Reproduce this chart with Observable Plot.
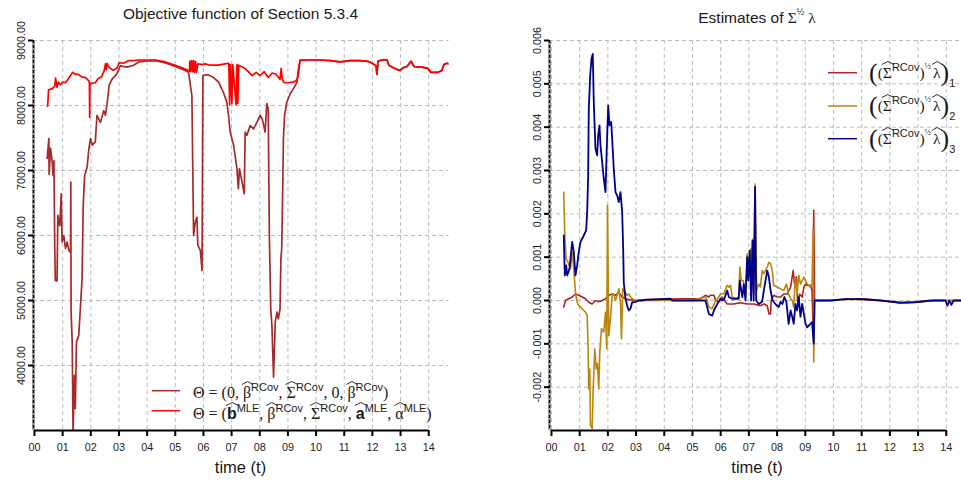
<!DOCTYPE html>
<html><head><meta charset="utf-8">
<script src="https://cdn.jsdelivr.net/npm/d3@7"></script>
<script src="https://cdn.jsdelivr.net/npm/@observablehq/plot@0.6"></script>
<style>
body{margin:0;background:#fff;}
#wrap{position:relative;width:961px;height:483px;overflow:hidden;font-family:"Liberation Sans",Arial,sans-serif;}
#wrap > div{position:absolute;top:0;}
#ov{position:absolute;left:0;top:0;pointer-events:none;font-family:"Liberation Sans",Arial,sans-serif;fill:#1a1a1a;}
.ser{font-family:"Liberation Serif","DejaVu Serif",serif;}
.sup{font-family:"Liberation Sans",Arial,sans-serif;font-size:11px;}
.bsans{font-family:"Liberation Sans",Arial,sans-serif;font-weight:bold;font-size:16px;}
</style></head><body>
<div id="wrap"><div id="leftPanel" style="left:0"></div><div id="rightPanel" style="left:480px"></div></div>
<script>
// ---------- tick values ----------
const xTicks = [0,1,2,3,4,5,6,7,8,9,10,11,12,13,14];
const yTicksLeft = [4000,5000,6000,7000,8000,9000];
const yTicksRight = [-0.002,-0.001,0,0.001,0.002,0.003,0.004,0.005,0.006];

// ---------- left panel: objective function ----------
// Theta = (0, beta^RCov, Sigma^RCov, 0, beta^RCov)
const timeRCov = [0.45,0.51,0.52,0.57,0.63,0.66,0.69,0.72,0.74,0.80,
 0.83,0.90,0.95,0.98,1.04,1.10,1.16,1.22,1.28,1.29,
 1.30,1.34,1.37,1.42,1.45,1.49,1.57,1.63,1.69,1.73,
 1.78,1.87,1.93,1.99,2.05,2.16,2.22,2.34,2.46,2.52,
 2.60,2.65,2.76,2.93,3.05,3.29,3.52,3.70,4.01,4.30,
 4.65,5.00,5.35,5.47,5.59,5.65,5.71,5.77,5.80,5.89,
 5.95,5.98,6.06,6.18,6.36,6.54,6.71,6.83,6.89,6.95,
 7.07,7.19,7.24,7.28,7.37,7.45,7.48,7.54,7.66,7.78,
 7.90,8.01,8.09,8.19,8.25,8.30,8.34,8.39,8.43,8.49,
 8.55,8.61,8.66,8.72,8.75,8.78,8.82,8.84,8.88,8.96,
 9.08,9.20,9.32,9.37,9.43,
 9.79,10.14,10.50,10.85,11.21,11.56,11.84,11.99,12.13,12.16,
 12.20,12.34,12.52,12.59,12.70,12.84,12.98,13.09,13.23,13.37,
 13.48,13.62,13.76,13.97,14.08,14.33,14.47,14.54,14.65,14.72];
const objRCov = [7185,7490,6940,7340,7130,6920,7150,5800,5310,5300,
 6310,6150,6640,5900,6000,5800,5900,5770,5740,6820,
 4820,4360,2980,3850,3340,4360,4460,4880,5340,6460,
 6920,7050,7330,7490,7390,7440,7850,7740,7920,7850,
 8100,8310,8410,8490,8610,8590,8620,8670,8685,8690,
 8655,8600,8540,8510,8150,6000,6200,6280,5850,5770,
 5460,8460,8470,8470,8430,8360,8200,8050,7850,7590,
 7390,7030,6720,7030,6820,6640,7590,7540,7690,7640,
 7740,7850,7790,7590,8030,7950,6000,4870,4620,3820,
 4670,4820,4720,4870,5640,5800,6870,7490,7850,8050,
 8180,8260,8360,8560,8690,
 8700,8700,8690,8670,8690,8690,8680,8650,8610,8480,
 8680,8700,8700,8620,8590,8560,8540,8580,8600,8680,
 8600,8590,8590,8570,8510,8510,8540,8630,8650,8640];
// Theta = (b^MLE, beta^RCov, Sigma^RCov, a^MLE, alpha^MLE)
const timeMLE = [0.45,0.47,0.50,0.64,0.72,0.75,0.80,0.85,0.92,1.00,
 1.10,1.17,1.28,1.35,1.45,1.56,1.67,1.81,1.93,1.95,
 1.96,1.97,2.05,2.16,2.27,2.38,2.48,2.52,2.55,2.58,
 2.62,2.70,2.80,2.94,3.01,3.16,3.33,3.51,3.69,4.01,
 4.30,4.65,5.00,5.35,5.50,5.52,5.55,5.58,5.62,5.65,
 5.68,5.72,5.75,5.80,5.95,6.06,6.24,6.52,6.77,6.90,
 6.93,6.96,7.01,7.04,7.16,7.19,7.22,7.25,7.48,7.73,
 7.87,8.01,8.16,8.30,8.44,8.58,8.72,8.76,8.80,8.87,
 9.01,9.18,9.29,9.36,9.43,9.79,10.14,10.50,10.85,11.21,
 11.56,11.84,11.99,12.13,12.16,12.20,12.34,12.52,12.59,12.70,
 12.84,12.98,13.09,13.23,13.37,13.48,13.62,13.76,13.97,14.08,
 14.33,14.47,14.54,14.65,14.72];
const objMLE = [7990,8000,8240,8260,8300,8420,8280,8360,8320,8360,
 8350,8390,8460,8510,8480,8480,8440,8430,8380,8350,
 7820,8340,8340,8350,8420,8440,8540,8640,8550,8650,
 8600,8570,8540,8580,8660,8650,8690,8690,8700,8700,
 8700,8670,8620,8560,8530,8680,8520,8690,8520,8690,
 8510,8680,8510,8640,8630,8640,8620,8620,8640,8650,
 8010,8630,8030,8630,8010,8630,8030,8620,8570,8460,
 8510,8460,8520,8430,8500,8480,8400,8570,8400,8350,
 8350,8360,8380,8440,8700,8700,8700,8690,8670,8690,
 8690,8680,8650,8610,8480,8680,8700,8700,8620,8590,
 8560,8540,8580,8600,8680,8600,8590,8590,8570,8510,
 8510,8540,8630,8650,8640];

// ---------- right panel: estimates of Sigma^(1/2) lambda ----------
const time1 = [0.436,0.496,0.613,0.734,0.851,0.968,1.089,1.206,1.323,1.443,
 1.560,1.677,1.798,1.915,2.032,2.152,2.270,2.387,2.507,2.624,
 2.741,2.979,3.333,4.57,5.28,5.46,5.58,5.64,5.76,5.82,
 5.93,6.05,6.17,6.23,6.46,6.70,6.94,7.17,7.41,7.53,
 7.65,7.71,7.77,7.79,7.88,8.00,8.12,8.24,8.36,8.48,
 8.57,8.62,8.69,8.73,8.80,8.89,8.95,9.01,9.07,9.18,
 9.24,9.28,9.30,9.33,9.89,10.60,11.13,11.67,12.38,12.91,
 13.62,14.68];
const lambda1 = [-0.15e-3,0,0.04e-3,0.08e-3,0.15e-3,0.12e-3,0.08e-3,0.04e-3,-0.04e-3,-0.08e-3,
 0,-0.03e-3,0,0.04e-3,0.12e-3,0.15e-3,0.12e-3,0.19e-3,0.08e-3,0.04e-3,
 0.02e-3,0,0.02e-3,0.04e-3,0.04e-3,0.12e-3,0.08e-3,0.12e-3,0.12e-3,0,
 -0.03e-3,0.08e-3,-0.03e-3,-0.08e-3,-0.08e-3,-0.05e-3,-0.08e-3,-0.08e-3,-0.12e-3,-0.08e-3,
 -0.12e-3,-0.31e-3,-0.31e-3,0,0.12e-3,0.08e-3,0.08e-3,0.15e-3,0.15e-3,0.31e-3,
 0.69e-3,0.38e-3,0.54e-3,-0.08e-3,0.15e-3,0.08e-3,0.31e-3,0.38e-3,0.35e-3,0.35e-3,
 0.23e-3,-0.77e-3,2.08e-3,0,0,0.04e-3,0.04e-3,0,-0.06e-3,-0.04e-3,
 0,0];
const time2 = [0.436,0.472,0.521,0.592,0.674,0.734,0.791,0.851,0.911,0.968,
 1.028,1.089,1.206,1.266,1.301,1.323,1.358,1.383,1.443,1.479,
 1.535,1.585,1.631,1.677,1.713,1.773,1.855,1.915,1.961,1.986,
 2.032,2.092,2.152,2.209,2.270,2.330,2.387,2.447,2.482,2.528,
 2.564,2.624,2.684,2.741,2.801,2.862,2.979,3.333,4.93,5.46,
 5.52,5.58,5.70,5.82,5.93,5.99,6.11,6.23,6.29,6.35,
 6.41,6.52,6.64,6.68,6.73,6.80,6.88,6.94,7.00,7.06,
 7.09,7.13,7.17,7.22,7.27,7.35,7.41,7.47,7.53,7.65,
 7.71,7.77,7.83,7.88,8.00,8.12,8.24,8.33,8.41,8.48,
 8.54,8.59,8.65,8.71,8.77,8.83,8.95,9.07,9.18,9.24,
 9.28,9.30,9.33,9.89,10.60,11.67,12.38,13.62,14.68];
const lambda2 = [2.50e-3,1.50e-3,0.96e-3,0.88e-3,0.73e-3,1.12e-3,0.73e-3,0.19e-3,-0.04e-3,-0.12e-3,
 -0.15e-3,-0.19e-3,-0.27e-3,-0.35e-3,-1.12e-3,-2.04e-3,-1.58e-3,-2.88e-3,-2.96e-3,-2.04e-3,
 -1.12e-3,-1.58e-3,-1.45e-3,-2.04e-3,-1.19e-3,-0.65e-3,-0.73e-3,-0.27e-3,-1.12e-3,2.20e-3,
 -0.81e-3,-0.42e-3,0.12e-3,0.15e-3,0,0.12e-3,0.27e-3,-0.04e-3,-0.88e-3,0.27e-3,
 0.23e-3,0.19e-3,0.12e-3,0.15e-3,0.08e-3,0.04e-3,0,0,0,0.08e-3,
 0,-0.15e-3,-0.19e-3,0,0.08e-3,0.15e-3,0.15e-3,0.35e-3,0.31e-3,0.35e-3,
 0.08e-3,0.04e-3,0.08e-3,0.77e-3,0.46e-3,0.46e-3,0.08e-3,1.08e-3,0.88e-3,1.19e-3,
 0.23e-3,1.42e-3,0.15e-3,2.69e-3,0.23e-3,0.38e-3,0.31e-3,0.69e-3,0.62e-3,0.77e-3,
 0.88e-3,0.85e-3,0.69e-3,0.35e-3,0.31e-3,0.27e-3,0.23e-3,0.38e-3,0.15e-3,0.04e-3,
 0,-0.15e-3,0.54e-3,0.15e-3,0.58e-3,0.38e-3,0.54e-3,0.38e-3,0.31e-3,0.38e-3,
 1.69e-3,-1.42e-3,0,0,0.03e-3,0,-0.05e-3,0,0];
const time3 = [0.436,0.472,0.521,0.557,0.638,0.734,0.791,0.851,0.911,0.968,
 1.028,1.145,1.230,1.266,1.301,1.323,1.372,1.418,1.465,1.500,
 1.560,1.621,1.656,1.702,1.738,1.798,1.855,1.915,1.975,2.011,
 2.057,2.117,2.152,2.209,2.270,2.330,2.387,2.447,2.507,2.543,
 2.564,2.624,2.684,2.741,2.801,2.862,2.979,3.096,3.216,3.333,
 4.22,4.29,4.93,5.46,5.52,5.58,5.70,5.76,5.88,5.99,
 6.06,6.13,6.23,6.29,6.41,6.64,6.68,6.73,6.77,6.82,
 6.88,6.94,6.98,7.03,7.08,7.13,7.17,7.22,7.26,7.35,
 7.47,7.53,7.65,7.71,7.77,7.84,7.94,8.06,8.12,8.19,
 8.26,8.33,8.41,8.48,8.54,8.59,8.65,8.71,8.77,8.83,
 8.89,8.95,9.01,9.07,9.18,9.24,9.30,9.33,9.89,10.43,
 10.96,11.67,12.38,12.91,13.44,13.97,14.04,14.11,14.18,14.26,
 14.50,14.68];
const lambda3 = [1.50e-3,0.58e-3,0.81e-3,0.58e-3,0.73e-3,1.35e-3,1.12e-3,0.58e-3,0.81e-3,1.12e-3,
 1.35e-3,1.50e-3,1.62e-3,2.04e-3,2.88e-3,4.42e-3,5.19e-3,5.58e-3,5.69e-3,4.58e-3,
 3.50e-3,3.35e-3,3.81e-3,4.04e-3,3.58e-3,3.19e-3,2.81e-3,2.50e-3,3.81e-3,4.50e-3,
 4.04e-3,4.12e-3,3.73e-3,3.04e-3,2.50e-3,2.42e-3,2.27e-3,2.50e-3,2.04e-3,1.19e-3,
 0.42e-3,0.04e-3,-0.12e-3,-0.23e-3,-0.19e-3,-0.04e-3,-0.03e-3,0,0,0.015e-3,
 0.04e-3,0,0,0,-0.15e-3,-0.31e-3,-0.35e-3,-0.23e-3,-0.08e-3,0.04e-3,
 0,0.04e-3,0.23e-3,0.08e-3,0.04e-3,0.04e-3,0.46e-3,0.23e-3,0.08e-3,0.38e-3,
 0,1.00e-3,0.46e-3,1.15e-3,0,1.38e-3,0,2.62e-3,0,-0.08e-3,
 -0.03e-3,0.23e-3,0.69e-3,0.54e-3,0.23e-3,0,-0.08e-3,-0.15e-3,-0.03e-3,-0.08e-3,
 0.08e-3,-0.03e-3,-0.54e-3,-0.23e-3,-0.38e-3,-0.54e-3,-0.08e-3,-0.23e-3,0.08e-3,-0.38e-3,
 -0.08e-3,-0.31e-3,-0.54e-3,-0.62e-3,-0.54e-3,-0.50e-3,-1.00e-3,0,0,0.03e-3,
 0.03e-3,0,-0.05e-3,-0.04e-3,0,0,-0.12e-3,0,-0.10e-3,0,
 0,0];

const rows = (ts, vs) => ts.map((t, i) => ({t, v: vs[i]}));
const fmtYear = d => String(d).padStart(2, "0");
const gridStyle = {stroke: "#bdbdbd", strokeOpacity: 1, strokeWidth: 1, strokeDasharray: "4,3"};
const baseStyle = {fontFamily: "Liberation Sans, Arial, sans-serif", fontSize: "10.8px", color: "#222", background: "white", overflow: "visible"};

function axisMarks(xMin, yMin, yTicks, yFmt) {
  return [
    Plot.ruleX([xMin], {stroke: "#a0a0a0", strokeWidth: 3}),
    Plot.ruleX([xMin], {stroke: "#000", strokeWidth: 1.3, strokeDasharray: "3,2"}),
    Plot.ruleY([{y: yMin, a: 0, b: 14}], {y: "y", x1: "a", x2: "b", stroke: "#000", strokeWidth: 2}),
    Plot.axisX(xTicks, {tickSize: 6, tickPadding: 7, strokeWidth: 2, stroke: "#000", tickFormat: fmtYear, label: null}),
    Plot.axisY(yTicks, {tickSize: 5, tickPadding: 4, strokeWidth: 2, stroke: "#000", tickRotate: -90, tickFormat: yFmt, label: null})
  ];
}

const leftXMin = -0.035;
const left = Plot.plot({
  width: 480, height: 483, marginTop: 40, marginBottom: 53, marginLeft: 33, marginRight: 31.5,
  x: {domain: [leftXMin, 14.72]},
  y: {domain: [3000, 9000]},
  style: baseStyle,
  marks: [
    Plot.gridX(xTicks, gridStyle),
    Plot.gridY(yTicksLeft, gridStyle),
    Plot.line(rows(timeRCov, objRCov), {x: "t", y: "v", stroke: "#A52A2A", strokeWidth: 1.7, clip: true}),
    Plot.line(rows(timeMLE, objMLE), {x: "t", y: "v", stroke: "#FF0000", strokeWidth: 1.7, clip: true}),
    ...axisMarks(leftXMin, 3000, yTicksLeft, d => d.toFixed(2))
  ]
});
document.getElementById("leftPanel").appendChild(left);

const rightXMin = -0.07;
const right = Plot.plot({
  width: 481, height: 483, marginTop: 40, marginBottom: 53, marginLeft: 69, marginRight: 0,
  x: {domain: [rightXMin, 14.54]},
  y: {domain: [-0.003, 0.006]},
  style: baseStyle,
  marks: [
    Plot.gridX(xTicks, gridStyle),
    Plot.gridY(yTicksRight, gridStyle),
    Plot.line(rows(time1, lambda1), {x: "t", y: "v", stroke: "#B22222", strokeWidth: 1.6, clip: true}),
    Plot.line(rows(time2, lambda2), {x: "t", y: "v", stroke: "#B8860B", strokeWidth: 1.6, clip: true}),
    Plot.line(rows(time3, lambda3), {x: "t", y: "v", stroke: "#00008B", strokeWidth: 1.8, clip: true}),
    ...axisMarks(rightXMin, -0.003, yTicksRight, d => d.toFixed(3))
  ]
});
document.getElementById("rightPanel").appendChild(right);
</script>
<svg id="ov" width="961" height="483" xmlns="http://www.w3.org/2000/svg">
  <text x="240.5" y="18.5" text-anchor="middle" font-size="15.5">Objective function of Section 5.3.4</text>
  <text x="757" y="23" text-anchor="middle" font-size="15.5">Estimates of <tspan class="ser">Σ</tspan><tspan font-size="9" dy="-8">½</tspan><tspan class="ser" dy="8"> λ</tspan></text>
  <text x="240.5" y="473" text-anchor="middle" font-size="16.5">time (t)</text>
  <text x="757" y="473" text-anchor="middle" font-size="16.5">time (t)</text>

  <line x1="151.7" x2="180" y1="390.7" y2="390.7" stroke="#A52A2A" stroke-width="1.5"/>
  <line x1="151.7" x2="180" y1="410.7" y2="410.7" stroke="#FF0000" stroke-width="1.5"/>
  <text class="ser" x="193" y="398" font-size="16">Θ = (0, <tspan class="h">β</tspan><tspan class="sup" dy="-7">RCov</tspan><tspan dy="7">, </tspan><tspan class="h">Σ</tspan><tspan class="sup" dy="-7">RCov</tspan><tspan dy="7">, 0, </tspan><tspan class="h">β</tspan><tspan class="sup" dy="-7">RCov</tspan><tspan dy="7">)</tspan></text>
  <text class="ser" x="193" y="419" font-size="16">Θ = (<tspan class="bsans h">b</tspan><tspan class="sup" dy="-7">MLE</tspan><tspan dy="7">, </tspan><tspan class="h">β</tspan><tspan class="sup" dy="-7">RCov</tspan><tspan dy="7">, </tspan><tspan class="h">Σ</tspan><tspan class="sup" dy="-7">RCov</tspan><tspan dy="7">, </tspan><tspan class="bsans h">a</tspan><tspan class="sup" dy="-7">MLE</tspan><tspan dy="7">, </tspan><tspan class="h">α</tspan><tspan class="sup" dy="-7">MLE</tspan><tspan dy="7">)</tspan></text>

  <line x1="828" x2="857" y1="72.7" y2="72.7" stroke="#B22222" stroke-width="1.5"/>
  <line x1="828" x2="857" y1="106" y2="106" stroke="#B8860B" stroke-width="1.5"/>
  <line x1="828" x2="857" y1="138.7" y2="138.7" stroke="#00008B" stroke-width="1.5"/>
  <text class="ser" x="869" y="78" font-size="15.5"><tspan font-size="26" dy="3">(</tspan><tspan dy="-3">(</tspan><tspan class="h">Σ</tspan><tspan class="sup" dy="-7">RCov</tspan><tspan dy="7">)</tspan><tspan font-size="8.5" dy="-9">½</tspan><tspan dy="9" dx="2" class="h">λ</tspan><tspan font-size="26" dy="3">)</tspan><tspan class="sup" font-size="10" dy="6">1</tspan></text>
  <text class="ser" x="869" y="111" font-size="15.5"><tspan font-size="26" dy="3">(</tspan><tspan dy="-3">(</tspan><tspan class="h">Σ</tspan><tspan class="sup" dy="-7">RCov</tspan><tspan dy="7">)</tspan><tspan font-size="8.5" dy="-9">½</tspan><tspan dy="9" dx="2" class="h">λ</tspan><tspan font-size="26" dy="3">)</tspan><tspan class="sup" font-size="10" dy="6">2</tspan></text>
  <text class="ser" x="869" y="144" font-size="15.5"><tspan font-size="26" dy="3">(</tspan><tspan dy="-3">(</tspan><tspan class="h">Σ</tspan><tspan class="sup" dy="-7">RCov</tspan><tspan dy="7">)</tspan><tspan font-size="8.5" dy="-9">½</tspan><tspan dy="9" dx="2" class="h">λ</tspan><tspan font-size="26" dy="3">)</tspan><tspan class="sup" font-size="10" dy="6">3</tspan></text>
  <g id="hats" fill="none" stroke="#1a1a1a" stroke-width="0.9"></g>
</svg>
<script>
// draw circumflex accents (hats) above the letters marked with class "h"
(function () {
  const g = document.getElementById("hats");
  document.querySelectorAll("#ov tspan.h").forEach(el => {
    const text = el.closest("text");
    const baseY = +text.getAttribute("y");
    const n = el.getNumberOfChars();
    const s = el.getStartPositionOfChar(0);
    const e = el.getEndPositionOfChar(n - 1);
    const x0 = s.x - 1, x1 = e.x + 2;
    const yb = baseY - 13.5, ya = baseY - 16.5;
    const p = document.createElementNS("http://www.w3.org/2000/svg", "path");
    p.setAttribute("d", `M${x0},${yb} L${(x0 + x1) / 2},${ya} L${x1},${yb}`);
    g.appendChild(p);
  });
})();
</script>
</body></html>
